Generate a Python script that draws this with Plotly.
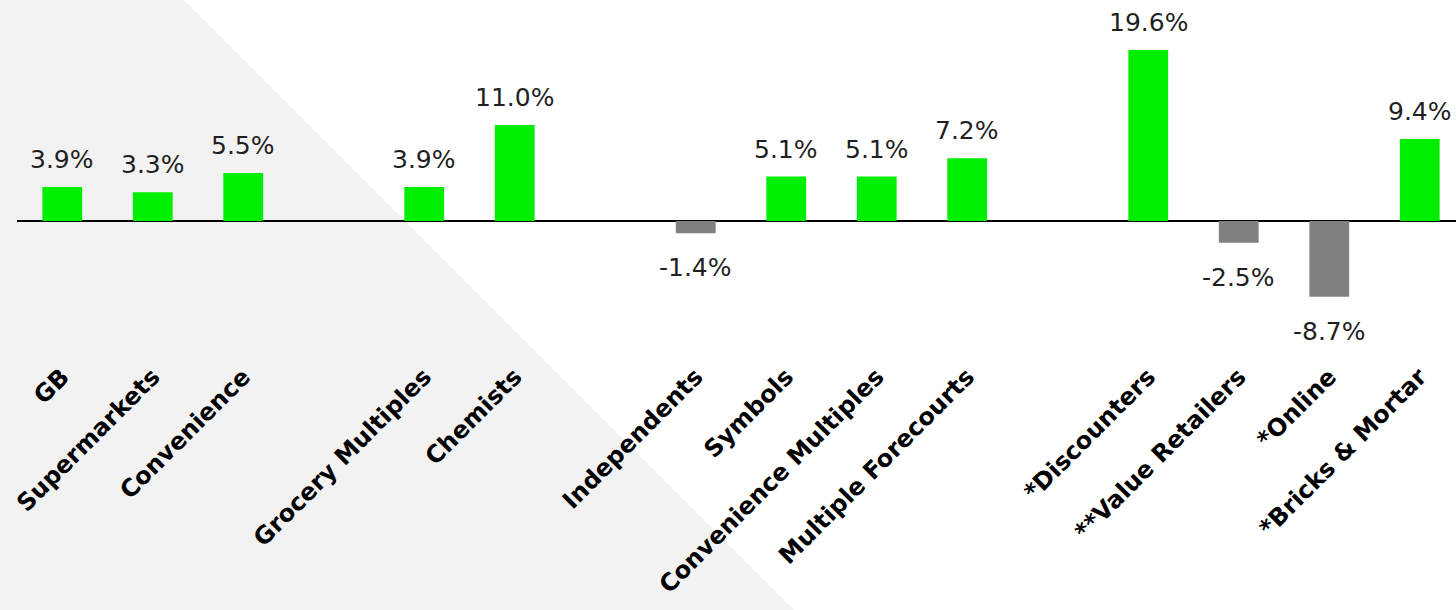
import plotly.graph_objects as go

# Year-on-year change by channel, grouped with a gap between groups
groups = [
    ["GB", "Supermarkets", "Convenience"],
    ["Grocery Multiples", "Chemists"],
    ["Independents", "Symbols", "Convenience Multiples", "Multiple Forecourts"],
    ["*Discounters", "**Value Retailers", "*Online", "*Bricks & Mortar"],
]
group_values = [
    [3.9, 3.3, 5.5],
    [3.9, 11.0],
    [-1.4, 5.1, 5.1, 7.2],
    [19.6, -2.5, -8.7, 9.4],
]

POS_COLOR = "#00EE00"
NEG_COLOR = "#808080"
TEXT_COLOR = "#1f1f1f"

W, H = 1456, 610
M_L, M_R, M_T, M_B = 17, 0, 0, 253
plot_w = W - M_L - M_R
plot_h = H - M_T - M_B

# slot positions: one empty slot between groups
xs, labels, values = [], [], []
pos = 0
for names, vals in zip(groups, group_values):
    for n, v in zip(names, vals):
        xs.append(pos)
        labels.append(n)
        values.append(v)
        pos += 1
    pos += 1

colors = [POS_COLOR if v >= 0 else NEG_COLOR for v in values]

fig = go.Figure()
fig.add_trace(go.Bar(
    x=xs, y=values, width=0.44,
    marker=dict(color=colors, line=dict(width=0)),
    hoverinfo="skip",
))

for x, v in zip(xs, values):
    fig.add_annotation(
        x=x, y=v, text=f"{v:.1f}%", showarrow=False,
        xanchor="center", yanchor="bottom" if v >= 0 else "top",
        yshift=11 if v >= 0 else -18,
        font=dict(family="DejaVu Sans", size=25, color=TEXT_COLOR),
    )

# light grey diagonal band in the background (pixel coords -> paper)
def px(xp):
    return (xp - M_L) / plot_w

def py(yp):
    return (H - M_B - yp) / plot_h

tri = [(0, 0), (184, 0), (794, 610), (0, 610)]
path = "M " + " L ".join(f"{px(a):.5f},{py(b):.5f}" for a, b in tri) + " Z"
fig.add_shape(type="path", path=path, xref="paper", yref="paper",
              fillcolor="#F2F2F2", line=dict(width=0), layer="below")

px_per_unit = 8.72
zero_px = 221
y_top = (zero_px - M_T) / px_per_unit
y_bot = -(H - M_B - zero_px) / px_per_unit
x_lo = -0.5
x_hi = x_lo + plot_w / 90.5

fig.update_layout(
    width=W, height=H,
    margin=dict(l=M_L, r=M_R, t=M_T, b=M_B, pad=0, autoexpand=False),
    paper_bgcolor="white", plot_bgcolor="rgba(0,0,0,0)",
    showlegend=False,
    xaxis=dict(
        range=[x_lo, x_hi], tickmode="array", tickvals=xs, ticktext=labels,
        tickangle=-45, showgrid=False, zeroline=False, showline=False,
        automargin=False,
        ticks="", tickfont=dict(family="DejaVu Sans", size=24, color="black", weight="bold"),
    ),
    yaxis=dict(
        range=[y_bot, y_top], showgrid=False, showticklabels=False,
        automargin=False,
        zeroline=True, zerolinecolor="black", zerolinewidth=2,
    ),
)

fig.write_html("out.html")
